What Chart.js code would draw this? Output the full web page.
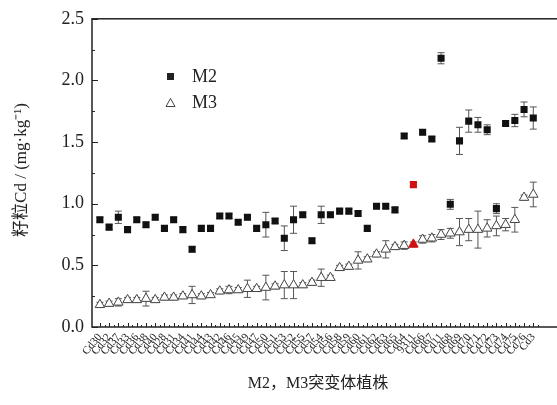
<!DOCTYPE html>
<html>
<head>
<meta charset="utf-8">
<script src="https://cdn.jsdelivr.net/npm/chart.js@4.4.1/dist/chart.umd.min.js"></script>
<style>
body { margin: 0; background: #fff; overflow: hidden; }
#wrap { width: 557px; height: 405px; overflow: hidden; }
</style>
</head>
<body>
<div id="wrap"><canvas id="c" width="575" height="405"></canvas></div>
<script>
// plant lines (x categories)
var lines = ['Cd30','Cd32','Cd37','Cd33','Cd36','Cd38','Cd40','Cd28','Cd31','Cd34',
	'Cd41','Cd44','Cd43','Cd42','Cd46','Cd45','Cd49','Cd47','Cd50','Cd51',
	'Cd53','Cd52','Cd55','Cd57','Cd54','Cd56','Cd58','Cd59','Cd60','Cd61',
	'Cd62','Cd63','Cd65','Cd64','9311','Cd66','Cd67','Cd11','Cd68','Cd69',
	'Cd70','Cd71','Cd72','Cd73','Cd74','Cd75','Cd76','Cd3'];

// grain Cd, mg/kg
var m2 = [0.87,0.81,0.89,0.79,0.87,0.83,0.89,0.80,0.87,0.79,
	0.63,0.80,0.80,0.90,0.90,0.85,0.89,0.80,0.83,0.86,
	0.72,0.87,0.91,0.70,0.91,0.91,0.94,0.94,0.92,0.80,
	0.98,0.98,0.95,1.55,1.155,1.58,1.525,2.18,0.995,1.51,
	1.67,1.64,1.60,0.96,1.65,1.675,1.765,1.695];
var m2Err = [0.02,0.02,0.05,0.02,0.02,0.02,0.02,0.02,0.02,0.02,
	0.02,0.02,0.02,0.02,0.02,0.02,0.02,0.02,0.10,0.02,
	0.10,0.11,0.02,0.02,0.07,0.02,0.02,0.02,0.02,0.02,
	0.02,0.02,0.02,0.02,0.02,0.02,0.02,0.045,0.04,0.11,
	0.09,0.06,0.04,0.04,0.02,0.05,0.06,0.09];

var m3 = [0.18,0.19,0.20,0.22,0.22,0.23,0.22,0.24,0.24,0.25,
	0.26,0.25,0.26,0.29,0.30,0.30,0.31,0.31,0.32,0.33,
	0.34,0.34,0.34,0.36,0.40,0.40,0.48,0.49,0.54,0.55,
	0.59,0.63,0.65,0.66,0.67,0.71,0.72,0.75,0.76,0.77,
	0.79,0.79,0.80,0.82,0.83,0.87,1.05,1.075];
var m3Err = [0.02,0.02,0.03,0.02,0.02,0.06,0.02,0.02,0.02,0.02,
	0.07,0.02,0.02,0.02,0.03,0.02,0.07,0.02,0.10,0.02,
	0.11,0.11,0.02,0.02,0.07,0.02,0.02,0.02,0.07,0.02,
	0.02,0.07,0.02,0.03,0.02,0.03,0.03,0.04,0.04,0.11,
	0.09,0.15,0.07,0.08,0.05,0.10,0.02,0.10];

var yTicks = [0, 0.5, 1.0, 1.5, 2.0, 2.5];
var wildType = 34; // index of 9311, drawn red

var ink = '#222';
var serif = "'Liberation Serif', 'Noto Sans CJK SC', serif";

function toPoints(vals)
{
	var pts = [];
	for(var i = 0; i < vals.length; i++)
	{
		pts.push({x: i + 1, y: vals[i]});
	}
	return pts;
}

function colorsFor(n, normal, special)
{
	var cols = [];
	for(var i = 0; i < n; i++)
	{
		cols.push(i == wildType ? special : normal);
	}
	return cols;
}

var errorBars = {
	id: 'errorBars',
	beforeDatasetsDraw: function(chart) {
		var ctx = chart.ctx;
		var ys = chart.scales.y;
		var errs = [m2Err, m3Err];
		ctx.save();
		ctx.strokeStyle = '#555';
		ctx.lineWidth = 1;
		chart.data.datasets.forEach(function(ds, d) {
			var meta = chart.getDatasetMeta(d);
			meta.data.forEach(function(pt, i) {
				var v = ds.data[i].y;
				var top = ys.getPixelForValue(v + errs[d][i]);
				var bot = ys.getPixelForValue(v - errs[d][i]);
				ctx.beginPath();
				ctx.moveTo(pt.x, top); ctx.lineTo(pt.x, bot);
				ctx.moveTo(pt.x - 3.5, top); ctx.lineTo(pt.x + 3.5, top);
				ctx.moveTo(pt.x - 3.5, bot); ctx.lineTo(pt.x + 3.5, bot);
				ctx.stroke();
			});
		});
		ctx.restore();
	}
};

var frame = {
	id: 'frame',
	afterDraw: function(chart) {
		var ctx = chart.ctx;
		var a = chart.chartArea;
		var xs = chart.scales.x, ys = chart.scales.y;
		ctx.save();
		ctx.strokeStyle = ink;
		ctx.lineWidth = 1.5;
		ctx.strokeRect(a.left, a.top, a.right - a.left, a.bottom - a.top);
		ctx.lineWidth = 1;
		ctx.beginPath();
		for(var v = 0; v <= 2.5; v += 0.25)
		{
			var py = Math.round(ys.getPixelForValue(v)) + 0.5;
			var len = (Math.round(v * 4) % 2 == 0) ? 6 : 3;
			ctx.moveTo(a.left, py); ctx.lineTo(a.left + len, py);
		}
		for(var k = 1; k <= lines.length; k++)
		{
			var px = Math.round(xs.getPixelForValue(k)) + 0.5;
			ctx.moveTo(px, a.bottom); ctx.lineTo(px, a.bottom - 4);
			var ph = Math.round(xs.getPixelForValue(k + 0.5)) + 0.5;
			ctx.moveTo(ph, a.bottom); ctx.lineTo(ph, a.bottom - 2);
		}
		ctx.stroke();

		// legend
		ctx.fillStyle = ink;
		ctx.font = '18px ' + serif;
		ctx.textBaseline = 'middle';
		ctx.textAlign = 'left';
		ctx.fillRect(167, 73, 7, 7);
		ctx.fillText(chart.data.datasets[0].label, 192, 77);
		ctx.strokeStyle = '#444';
		ctx.beginPath();
		ctx.moveTo(170.5, 98.5); ctx.lineTo(175, 106.5); ctx.lineTo(166, 106.5); ctx.closePath();
		ctx.stroke();
		ctx.fillText(chart.data.datasets[1].label, 192, 103);

		// axis titles
		ctx.font = '16px ' + serif;
		ctx.textAlign = 'center';
		ctx.fillText('M2，M3突变体植株', 318, 384);
		ctx.save();
		ctx.translate(22, 170);
		ctx.rotate(-Math.PI / 2);
		ctx.font = '17px ' + serif;
		ctx.fillText('籽粒Cd / (mg·kg⁻¹)', 0, 0);
		ctx.restore();
		ctx.restore();
	}
};

var chart = new Chart(document.getElementById('c'), {
	type: 'scatter',
	data: {
		datasets: [{
			label: 'M2',
			data: toPoints(m2),
			pointStyle: 'rect',
			pointRadius: 5,
			pointHoverRadius: 5,
			pointBackgroundColor: colorsFor(m2.length, '#111', '#d01010'),
			pointBorderColor: colorsFor(m2.length, '#111', '#d01010'),
			pointBorderWidth: 0
		}, {
			label: 'M3',
			data: toPoints(m3),
			pointStyle: 'triangle',
			pointRadius: 5.5,
			pointHoverRadius: 5.5,
			pointBackgroundColor: colorsFor(m3.length, '#fff', '#d01010'),
			pointBorderColor: colorsFor(m3.length, '#444', '#d01010'),
			pointBorderWidth: 1
		}]
	},
	options: {
		responsive: false,
		animation: false,
		layout: { padding: { top: 16, left: 0, right: 0, bottom: 0 } },
		plugins: {
			legend: { display: false },
			tooltip: { enabled: false }
		},
		scales: {
			x: {
				type: 'linear',
				min: 0.144,
				max: 51.82,
				grid: { display: false, drawTicks: false },
				border: { display: false },
				afterBuildTicks: function(scale) {
					scale.ticks = lines.map(function(l, i) { return {value: i + 1}; });
				},
				afterFit: function(scale) { scale.height = 78; },
				ticks: {
					autoSkip: false,
					minRotation: 50,
					maxRotation: 50,
					padding: 4,
					color: ink,
					font: { family: serif, size: 11 },
					callback: function(v) { return lines[v - 1]; }
				}
			},
			y: {
				min: 0,
				max: 2.5,
				grid: { display: false, drawTicks: false },
				border: { display: false },
				afterBuildTicks: function(scale) {
					scale.ticks = yTicks.map(function(v) { return {value: v}; });
				},
				afterFit: function(scale) { scale.width = 92; },
				ticks: {
					padding: 8,
					color: ink,
					font: { family: serif, size: 18 },
					callback: function(v) { return v.toFixed(1); }
				}
			}
		}
	},
	plugins: [errorBars, frame]
});
</script>
</body>
</html>
